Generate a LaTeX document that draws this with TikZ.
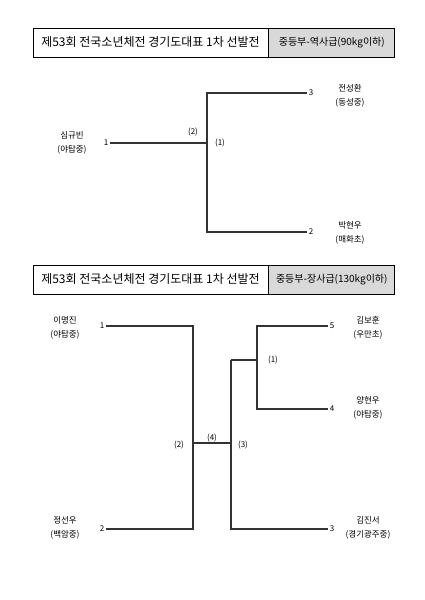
\documentclass[tikz,border=0pt]{standalone}
\usepackage{fontspec}
\setmainfont{Noto Sans CJK KR}
\usetikzlibrary{positioning}
\usepackage{xcolor}
\definecolor{headgray}{RGB}{217,217,217}
\tikzset{
    titlebox/.style={draw=black, line width=0.8pt, minimum height=29pt, inner sep=2pt, font=\fontsize{12}{14}\selectfont},
    classbox/.style={titlebox, fill=headgray, font=\fontsize{10}{12}\selectfont},
    seed/.style={inner sep=2pt, font=\fontsize{8}{10}\selectfont},
    player/.style={align=center, inner sep=0pt, font=\fontsize{8.5}{14}\selectfont},
    bout/.style={inner sep=1pt, font=\fontsize{8}{10}\selectfont},
    bracket/.style={draw=black!80, line width=1.1pt}
}

\begin{document}
\begin{tikzpicture}[x=1pt, y=-1pt]
    \useasboundingbox (0,0) rectangle (424,600);

    % 역사급 (90kg 이하)
    \node[titlebox, minimum width=235pt] (title1) at (150.5,42.5) {제53회 전국소년체전 경기도대표 1차 선발전};
    \node[classbox, minimum width=126pt, right=0pt of title1] (class1) {중등부-역사급(90kg이하)};

    \node[seed] (a1) at (106,143) {1};
    \node[seed] (a3) at (311,93) {3};
    \node[seed] (a2) at (311,232) {2};
    \coordinate (aj) at (207,143);
    \draw[bracket] (a1.east) -- (aj);
    \draw[bracket] (a3.west) -| (aj);
    \draw[bracket] (a2.west) -| (aj);
    \node[bout] at (193,132) {(2)};
    \node[bout] at (220,143) {(1)};

    \node[player] (p11) at (72,143) {심규빈\\(야탑중)};
    \node[player] (p13) at (350,95.5) {전성환\\(동성중)};
    \node[player] (p12) at (350,233) {박현우\\(매화초)};

    % 장사급 (130kg 이하)
    \node[titlebox, minimum width=235pt] (title2) at (150.5,279.5) {제53회 전국소년체전 경기도대표 1차 선발전};
    \node[classbox, minimum width=126pt, right=0pt of title2] (class2) {중등부-장사급(130kg이하)};

    \node[seed] (b1) at (102,326) {1};
    \node[seed] (b2) at (102,529) {2};
    \node[seed] (b5) at (332,326) {5};
    \node[seed] (b4) at (332,409) {4};
    \node[seed] (b3) at (332,529) {3};
    \coordinate (bl) at (193,443);
    \coordinate (br) at (231,443);
    \coordinate (bm) at (231,360);
    \coordinate (bt) at (257,360);
    \draw[bracket] (b1.east) -| (bl);
    \draw[bracket] (b2.east) -| (bl);
    \draw[bracket] (bl) -- (br);
    \draw[bracket] (b3.west) -| (bm);
    \draw[bracket] (bm) -- (bt);
    \draw[bracket] (b5.west) -| (bt);
    \draw[bracket] (b4.west) -| (bt);
    \node[bout] at (273,360) {(1)};
    \node[bout] at (179,445) {(2)};
    \node[bout] at (212,438) {(4)};
    \node[bout] at (243,445) {(3)};

    \node[player] (p21) at (65,328) {이명진\\(야탑중)};
    \node[player] (p22) at (65,528) {정선우\\(백암중)};
    \node[player] (p25) at (368,328) {김보훈\\(우만초)};
    \node[player] (p24) at (368,408) {양현우\\(야탑중)};
    \node[player] (p23) at (368,528) {김진서\\(경기광주중)};
\end{tikzpicture}
\end{document}
